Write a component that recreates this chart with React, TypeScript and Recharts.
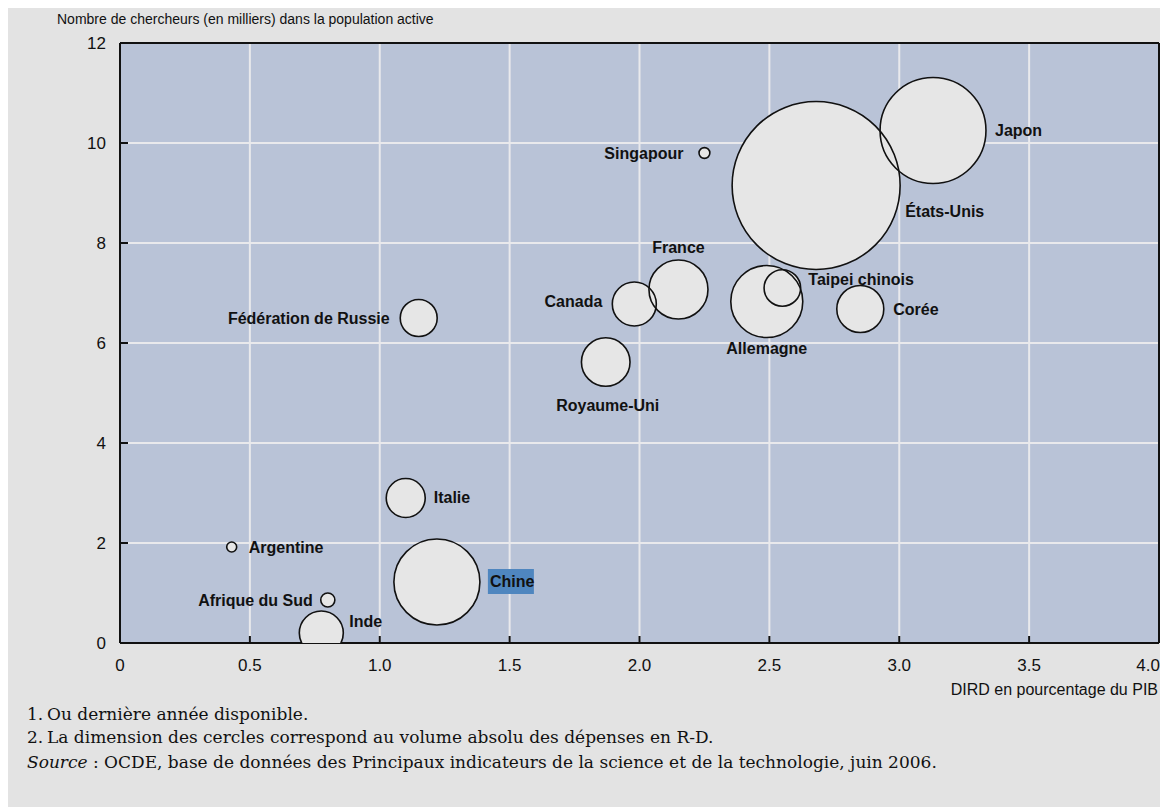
import React from 'react';
import { ScatterChart, Scatter, XAxis, YAxis, ZAxis, CartesianGrid, ReferenceLine } from 'recharts';

// Countries and values
const countries = [
  'Japon', 'États-Unis', 'Singapour', 'France', 'Canada', 'Allemagne', 'Taipei chinois',
  'Corée', 'Royaume-Uni', 'Fédération de Russie', 'Italie', 'Chine', 'Argentine',
  'Afrique du Sud', 'Inde',
];
// DIRD en pourcentage du PIB
const dirdPctGdp = [3.13, 2.68, 2.25, 2.15, 1.98, 2.49, 2.55, 2.85, 1.87, 1.15, 1.1, 1.22, 0.43, 0.8, 0.775];
// chercheurs (en milliers) dans la population active
const researchers = [10.25, 9.15, 9.8, 7.07, 6.78, 6.83, 7.1, 6.68, 5.62, 6.5, 2.9, 1.22, 1.92, 0.86, 0.2];
// volume absolu des dépenses en R-D (circle size)
const rdSpending = [124, 312, 1.3, 38.5, 21.4, 57.3, 14.8, 24.4, 26.1, 15.1, 16.8, 81.8, 1.1, 2.2, 21.4];

const xTicks = [0, 0.5, 1, 1.5, 2, 2.5, 3, 3.5, 4];
const yTicks = [0, 2, 4, 6, 8, 10, 12];

const data = countries.map((name, i) => ({
  name,
  x: dirdPctGdp[i],
  y: researchers[i],
  z: rdSpending[i],
}));

// where each label sits relative to its bubble centre: dx, dy, anchor
const labelPlace: Record<string, [number, number, 'start' | 'middle' | 'end']> = {
  'Japon': [62, 0, 'start'],
  'États-Unis': [89, 26, 'start'],
  'Singapour': [-21, 0, 'end'],
  'France': [0, -42, 'middle'],
  'Canada': [-32, -3, 'end'],
  'Allemagne': [0, 47, 'middle'],
  'Taipei chinois': [26, -9, 'start'],
  'Corée': [33, 0, 'start'],
  'Royaume-Uni': [2, 43, 'middle'],
  'Fédération de Russie': [-29, 0, 'end'],
  'Italie': [28, -1, 'start'],
  'Chine': [53, -1, 'start'],
  'Argentine': [17, 0, 'start'],
  'Afrique du Sud': [-15, 0, 'end'],
  'Inde': [28, -12, 'start'],
};

const FONT = "'Liberation Sans', Arial, sans-serif";
const PLOT_BG = '#b9c3d7';
const PAGE_BG = '#e3e3e3';
const BUBBLE = '#e6e6e6';

const radius = (p: any) => Math.sqrt(Math.max(p.size || 0, 0) / Math.PI);

const BubbleFill = (props: any) => (
  <circle cx={props.cx} cy={props.cy} r={radius(props)} fill={BUBBLE} />
);

const BubbleOutline = (props: any) => (
  <circle cx={props.cx} cy={props.cy} r={radius(props)} fill="none" stroke="#111" strokeWidth={1.6} />
);

const BubbleLabel = (props: any) => {
  const { cx, cy, payload } = props;
  const [dx, dy, anchor] = labelPlace[payload.name];
  const tx = cx + dx;
  const ty = cy + dy;
  return (
    <g>
      {payload.name === 'Chine' && (
        <rect x={tx - 2} y={ty - 12} width={46} height={25} fill="#4f86bf" />
      )}
      <text x={tx} y={ty} textAnchor={anchor} dominantBaseline="central"
        fontFamily={FONT} fontSize={16} fontWeight="bold" fill="#111">
        {payload.name}
      </text>
    </g>
  );
};

const YTick = (props: any) => {
  const { x, y, payload } = props;
  return (
    <g>
      <line x1={x + 14} x2={x + 22} y1={y} y2={y} stroke="#111" strokeWidth={2} />
      <text x={x} y={y} textAnchor="end" dominantBaseline="central" fontFamily={FONT} fontSize={17} fill="#111">
        {payload.value}
      </text>
    </g>
  );
};

const XTick = (props: any) => {
  const { x, y, payload } = props;
  const v = payload.value;
  const label = v === 0 ? '0' : v.toFixed(1);
  const last = v === 4;
  return (
    <g>
      <line x1={x} x2={x} y1={y} y2={y - 7} stroke="#111" strokeWidth={2} />
      <text x={last ? x + 1 : x} y={y + 22} textAnchor={last ? 'end' : 'middle'} dominantBaseline="central"
        fontFamily={FONT} fontSize={17} fill="#111">
        {label}
      </text>
    </g>
  );
};

const footStyle: React.CSSProperties = {
  position: 'absolute',
  left: 19,
  fontFamily: "'DejaVu Serif', 'Liberation Serif', serif",
  fontSize: 17,
  lineHeight: '20px',
  color: '#111',
  whiteSpace: 'nowrap',
};

export default function App() {
  return (
    <div style={{ position: 'relative', width: 1160, height: 799, background: PAGE_BG, fontFamily: FONT }}>
      <div style={{ position: 'absolute', left: 49, top: 2, fontSize: 14, lineHeight: '18px', color: '#111', whiteSpace: 'nowrap' }}>
        Nombre de chercheurs (en milliers) dans la population active
      </div>
      <div style={{ position: 'absolute', top: 0, left: 0 }}>
        <ScatterChart width={1160} height={700} margin={{ top: 35, right: 9, left: 52, bottom: 35 }}>
          <CartesianGrid fill={PLOT_BG} stroke="#e9e9ec" strokeWidth={2}
            horizontalValues={[2, 4, 6, 8, 10]} verticalValues={[0.5, 1, 1.5, 2, 2.5, 3, 3.5]} />
          <XAxis type="number" dataKey="x" domain={[0, 4]} ticks={xTicks} interval={0}
            height={30} tickSize={0} tickMargin={0} tickLine={false}
            axisLine={{ stroke: '#111', strokeWidth: 2 }} tick={<XTick />} />
          <YAxis type="number" dataKey="y" domain={[0, 12]} ticks={yTicks} interval={0}
            width={60} tickSize={0} tickMargin={14} tickLine={false} allowDataOverflow
            axisLine={{ stroke: '#111', strokeWidth: 2 }} tick={<YTick />} />
          <ZAxis type="number" dataKey="z" domain={[0, 312]} range={[0, Math.PI * 84 * 84]} />
          <ReferenceLine y={12} stroke="#111" strokeWidth={2} />
          <ReferenceLine x={4} stroke="#111" strokeWidth={2} />
          <Scatter data={data} shape={<BubbleFill />} isAnimationActive={false} />
          <Scatter data={data} shape={<BubbleOutline />} isAnimationActive={false} />
          <Scatter data={data} shape={<BubbleLabel />} isAnimationActive={false} />
        </ScatterChart>
      </div>
      <div style={{ position: 'absolute', right: 10, top: 673, fontSize: 16, lineHeight: '18px', color: '#111', whiteSpace: 'nowrap' }}>
        DIRD en pourcentage du PIB
      </div>
      <div style={{ ...footStyle, top: 696 }}>
        <span style={{ display: 'inline-block', width: 20 }}>1.</span>Ou dernière année disponible.
      </div>
      <div style={{ ...footStyle, top: 719 }}>
        <span style={{ display: 'inline-block', width: 20 }}>2.</span>La dimension des cercles correspond au volume absolu des dépenses en R-D.
      </div>
      <div style={{ ...footStyle, top: 744 }}>
        <i>Source</i> : OCDE, base de données des Principaux indicateurs de la science et de la technologie, juin 2006.
      </div>
    </div>
  );
}
